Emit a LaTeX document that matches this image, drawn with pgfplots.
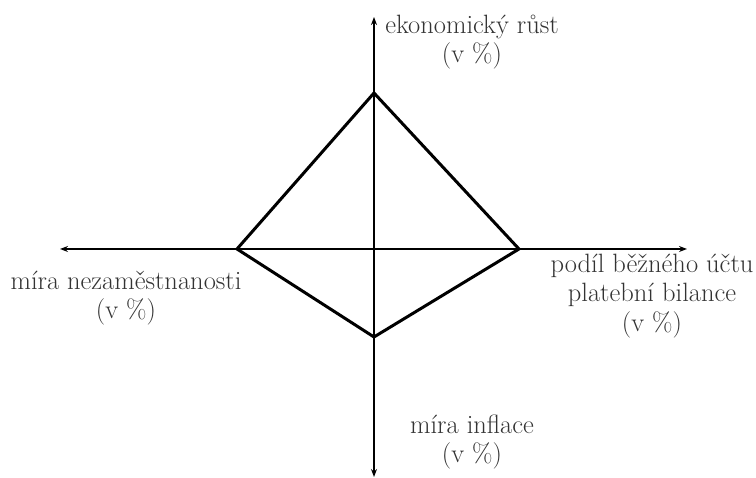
\documentclass[border=0pt]{standalone}
\usepackage{pgfplots}
\pgfplotsset{compat=1.18}
\usetikzlibrary{arrows.meta}
\begin{document}
\begin{tikzpicture}
\begin{axis}[
    x=1pt, y=1pt,
    axis lines=middle,
    xmin=-314, xmax=313,
    ymin=-228, ymax=232,
    xtick=\empty, ytick=\empty,
    axis line style={line width=1.4pt, {Stealth[length=8pt,width=6pt]}-{Stealth[length=8pt,width=6pt]}},
    clip=false,
]
\addplot[line width=3pt, line join=miter, black, mark=none] coordinates {
    (0,156) (145,0) (0,-88) (-137,0)
} -- cycle;
\begin{scope}[font=\fontsize{26.5}{29.5}\selectfont, text=black!80, align=center]
\node at (axis cs:98,207) {ekonomický růst\\(v \%)};
\node at (axis cs:278,-47) {podíl běžného účtu\\platební bilance\\(v \%)};
\node at (axis cs:-248,-49) {míra nezaměstnanosti\\(v \%)};
\node at (axis cs:98,-193) {míra inflace\\(v \%)};
\end{scope}
\coordinate (bl) at (axis cs:-374,-229);
\coordinate (tr) at (axis cs:382,249);
\end{axis}
\pgfresetboundingbox
\path (bl) rectangle (tr);
\end{tikzpicture}
\end{document}
